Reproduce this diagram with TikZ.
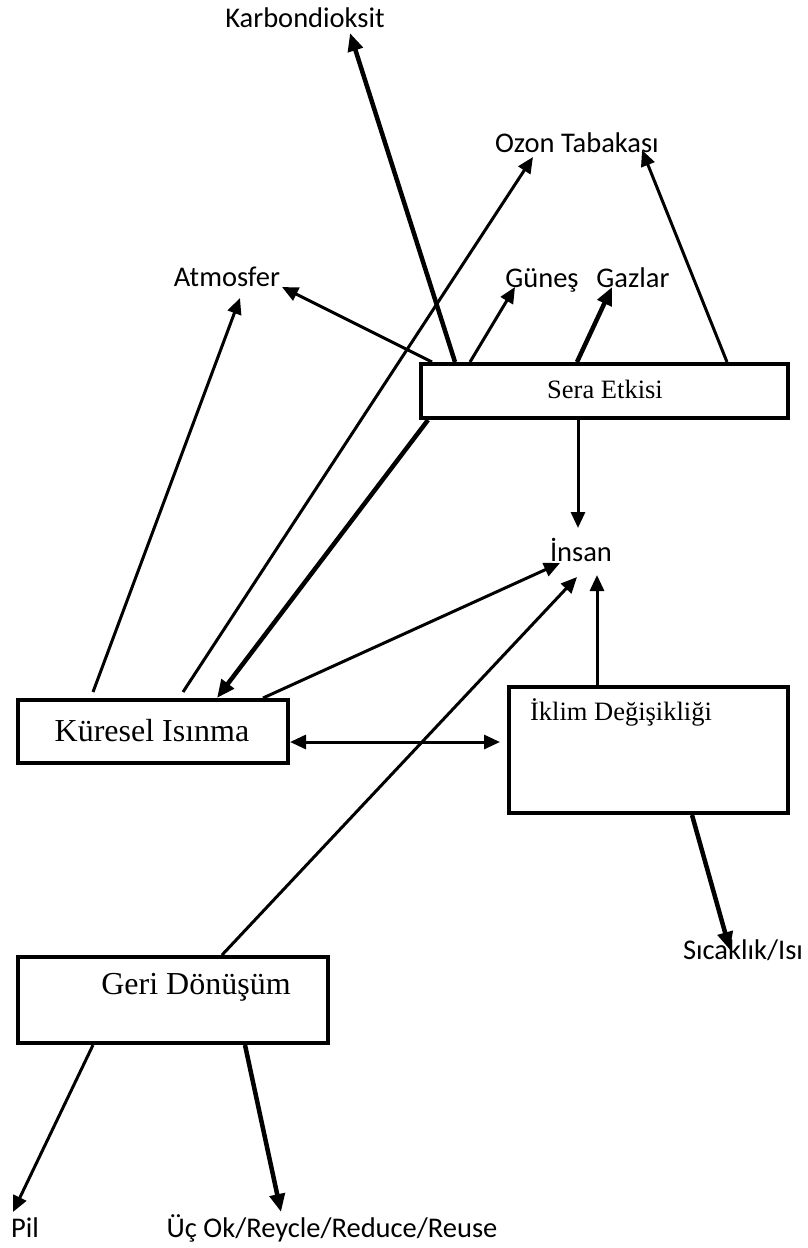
\documentclass[tikz,border=0pt]{standalone}
\usepackage{fontspec}
\setmainfont{Liberation Serif}
\newfontfamily\labfont{Carlito}
\usetikzlibrary{arrows.meta,calc}

\tikzset{
  box/.style={draw, line width=4pt, inner sep=0pt, fill=white},
  boxtext/.style={inner sep=0pt, font=\fontsize{#1}{#1}\selectfont},
  lab/.style={inner sep=0pt, font=\labfont\fontsize{28.5}{30}\selectfont},
  arr/.style={line width=3pt, -{Triangle[length=16pt,width=14pt]}},
  thickarr/.style={line width=4.5pt, -{Triangle[length=18pt,width=15pt]}},
  dblarr/.style={line width=3pt, {Triangle[length=16pt,width=14pt]}-{Triangle[length=16pt,width=14pt]}}
}

\begin{document}
\begin{tikzpicture}[x=1pt,y=-1pt]
\useasboundingbox (0,0) rectangle (807,1248);

% boxes
\node[box, minimum width=367pt, minimum height=54pt] (sera) at (604.5,391) {};
\node[box, minimum width=270pt, minimum height=63pt] (kuresel) at (153,731.5) {};
\node[box, minimum width=279pt, minimum height=126pt] (iklim) at (648.5,750) {};
\node[box, minimum width=310pt, minimum height=86pt] (geri) at (173,1000) {};

% box captions
\node[boxtext=26.5] (seraTxt) at (605,389) {Sera Etkisi};
\node[boxtext=32] (kureselTxt) at (152,731) {Küresel Isınma};
\node[boxtext=26.5] (iklimTxt) at (621,712) {İklim Değişikliği};
\node[boxtext=32] (geriTxt) at (196,987) {Geri Dönüşüm};

% free labels
\node[lab] (karbon) at (305,18) {Karbondioksit};
\node[lab] (ozon) at (577,143) {Ozon Tabakası};
\node[lab] (atmo) at (227,277) {Atmosfer};
\node[lab, anchor=base] (gunes) at (542,287) {Güneş};
\node[lab, anchor=base] (gazlar) at (633,287) {Gazlar};
\node[lab] (insan) at (581,550) {İnsan};
\node[lab] (sicak) at (743,950) {Sıcaklık/Isı};
\node[lab] (pil) at (25,1228) {Pil};
\node[lab] (ucok) at (332,1228) {Üç Ok/Reycle/Reduce/Reuse};

% Sera Etkisi
\draw[thickarr] ($(sera.north west)+(36,0)$) -- ($(karbon)+(45,15)$);
\draw[arr] ($(sera.north west)+(13,0)$) -- ($(atmo)+(55,10)$);
\draw[arr] ($(sera.north west)+(51,0)$) -- ($(gunes.base)+(-27,0)$);
\draw[thickarr] ($(sera.north west)+(158,0)$) -- ($(gazlar.base)+(-21,0)$);
\draw[arr] ($(sera.north west)+(308,0)$) -- ($(ozon)+(65,7)$);
\draw[arr] ($(sera.south west)+(159,0)$) -- ($(insan)+(-3,-22)$);
\draw[thickarr] ($(sera.south west)+(9,0)$) -- ($(kuresel.north west)+(201,0)$);

% Küresel Isınma
\draw[arr] ($(kuresel.north west)+(77,-6)$) -- ($(atmo)+(13,21)$);
\draw[arr] ($(kuresel.north west)+(167,-6)$) -- ($(ozon)+(-44,14)$);
\draw[arr] ($(kuresel.north west)+(247,0)$) -- ($(insan)+(-21,13)$);
\draw[dblarr] ($(kuresel.north east)+(0,44)$) -- ($(iklim.north west)+(-7,57)$);

% İklim Değişikliği
\draw[arr] ($(iklim.north west)+(90,0)$) -- ($(insan)+(16,25)$);
\draw[thickarr] ($(iklim.south west)+(185,0)$) -- ($(sicak)+(-13,0)$);

% Geri Dönüşüm
\draw[arr] ($(geri.north west)+(206,0)$) -- ($(insan)+(-4,27)$);
\draw[arr] ($(geri.south west)+(77,0)$) -- ($(pil)+(-12,-16)$);
\draw[thickarr] ($(geri.south west)+(229,0)$) -- ($(ucok)+(-51,-16)$);
\end{tikzpicture}
\end{document}
